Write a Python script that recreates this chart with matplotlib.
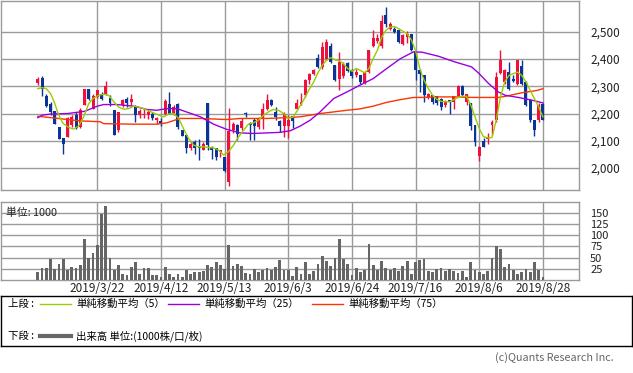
import numpy as np
import matplotlib.pyplot as plt

plt.rcParams['font.family'] = ['Noto Sans CJK JP', 'DejaVu Sans']

# ---- data (2019/3/1 - 2019/8/28, trading days) ----
opens = [2311, 2330, 2263, 2234, 2209, 2150, 2110, 2115, 2157, 2196,
         2151, 2233, 2289, 2218, 2261, 2273, 2270, 2256, 2212, 2139,
         2231, 2255, 2243, 2224, 2194, 2194, 2196, 2197, 2176, 2173,
         2200, 2234, 2200, 2234, 2139, 2121, 2072, 2097, 2078, 2068,
         2237, 2078, 2072, 2060, 2042, 1950, 2141, 2157, 2148, 2203,
         2166, 2175, 2151, 2182, 2218, 2249, 2206, 2173, 2154, 2154,
         2190, 2218, 2234, 2267, 2322, 2346, 2404, 2371, 2401, 2446,
         2377, 2328, 2337, 2386, 2358, 2340, 2340, 2312, 2352, 2446,
         2466, 2446, 2560, 2511, 2511, 2507, 2456, 2480, 2490, 2429,
         2361, 2340, 2259, 2267, 2263, 2255, 2231, 2249, 2243, 2263,
         2300, 2243, 2237, 2157, 2044, 2100, 2107, 2157, 2176, 2349,
         2316, 2352, 2328, 2310, 2373, 2316, 2251, 2176, 2176, 2234]
highs = [2334, 2337, 2270, 2243, 2210, 2152, 2112, 2188, 2194, 2206,
         2221, 2291, 2291, 2270, 2288, 2279, 2320, 2267, 2212, 2206,
         2255, 2261, 2273, 2230, 2218, 2218, 2212, 2206, 2188, 2182,
         2255, 2279, 2230, 2239, 2139, 2121, 2100, 2102, 2108, 2097,
         2239, 2082, 2072, 2068, 2042, 2221, 2170, 2160, 2182, 2206,
         2170, 2182, 2188, 2237, 2273, 2252, 2224, 2176, 2206, 2194,
         2190, 2255, 2276, 2325, 2349, 2365, 2419, 2462, 2474, 2458,
         2377, 2426, 2389, 2389, 2365, 2365, 2340, 2356, 2434, 2507,
         2492, 2560, 2592, 2535, 2517, 2511, 2493, 2502, 2493, 2429,
         2364, 2340, 2275, 2269, 2265, 2258, 2248, 2250, 2263, 2304,
         2304, 2273, 2240, 2158, 2081, 2110, 2127, 2175, 2352, 2432,
         2362, 2389, 2340, 2398, 2395, 2318, 2253, 2178, 2237, 2237]
lows = [2304, 2263, 2225, 2194, 2161, 2105, 2051, 2113, 2150, 2145,
        2148, 2230, 2249, 2216, 2258, 2249, 2267, 2227, 2121, 2133,
        2224, 2224, 2230, 2170, 2182, 2185, 2179, 2176, 2163, 2154,
        2194, 2200, 2194, 2145, 2118, 2054, 2066, 2051, 2029, 2066,
        2065, 2035, 2029, 2042, 1987, 1935, 2130, 2103, 2140, 2188,
        2103, 2103, 2145, 2145, 2212, 2227, 2176, 2133, 2115, 2112,
        2148, 2215, 2230, 2261, 2310, 2340, 2368, 2365, 2398, 2386,
        2318, 2285, 2330, 2352, 2332, 2335, 2310, 2308, 2350, 2443,
        2460, 2440, 2517, 2505, 2495, 2458, 2452, 2458, 2430, 2322,
        2279, 2243, 2255, 2236, 2230, 2212, 2225, 2198, 2218, 2260,
        2263, 2230, 2139, 2081, 2027, 2076, 2088, 2121, 2170, 2345,
        2310, 2285, 2316, 2305, 2305, 2229, 2170, 2117, 2170, 2176]
closes = [2325, 2290, 2227, 2206, 2163, 2107, 2088, 2182, 2188, 2148,
          2212, 2289, 2252, 2265, 2285, 2252, 2300, 2237, 2121, 2204,
          2249, 2240, 2255, 2194, 2209, 2200, 2206, 2185, 2182, 2166,
          2245, 2200, 2224, 2149, 2118, 2075, 2087, 2072, 2072, 2088,
          2085, 2066, 2039, 2066, 1990, 2137, 2161, 2125, 2173, 2197,
          2157, 2154, 2182, 2218, 2249, 2230, 2188, 2154, 2200, 2175,
          2173, 2239, 2242, 2322, 2344, 2361, 2371, 2444, 2462, 2389,
          2322, 2389, 2383, 2356, 2337, 2352, 2316, 2352, 2432, 2478,
          2478, 2541, 2527, 2527, 2499, 2462, 2489, 2490, 2432, 2358,
          2344, 2267, 2271, 2243, 2239, 2224, 2243, 2243, 2263, 2300,
          2267, 2271, 2154, 2097, 2078, 2076, 2114, 2170, 2334, 2398,
          2358, 2291, 2320, 2395, 2310, 2231, 2178, 2139, 2231, 2178]
volume = [18.5, 27, 27, 47, 24.5, 36, 47, 23, 30, 27,
          34, 92, 50, 59, 79, 146, 164, 50, 21.5, 34,
          14, 12, 30, 41, 14, 27, 27, 12, 12, 7,
          30, 14, 7, 14, 7, 23, 14, 18.5, 18.5, 21,
          34, 30, 39, 34, 24.5, 79, 32, 36, 32, 16,
          14, 25, 18.5, 23, 27, 21.5, 30, 45, 23, 22,
          9.6, 30, 14, 41, 14, 21, 36, 54, 43, 32,
          50, 92, 47, 36, 12, 27, 18.5, 23, 81, 34,
          23, 43, 27, 23, 27, 21, 32, 43, 14, 41,
          45, 47, 21, 18.5, 25, 27, 21, 25, 21, 16,
          21, 7, 39, 23, 18.5, 14, 21, 50, 76, 70,
          30, 36, 23, 14, 18.5, 25, 18.5, 39, 23, 7]

# moving averages (day index, price)
ma5_x = [0, 1, 2, 3, 4, 4.5, 5.3, 6, 7.3, 8.4, 9.6, 10.8, 12, 13, 14.3, 15.5, 16.7,
         17.9, 19, 20.2, 21.4, 22.6, 23.7, 24.9, 26.1, 27.3, 28.5, 29.6, 30.8, 32,
         33.2, 34.3, 35.5, 36.7, 37.9, 39, 40.2, 41.4, 42.6, 43.8, 44.9, 46.1, 47.3,
         48.5, 49.6, 50.8, 52, 53.2, 54.3, 55.5, 56.7, 57.9, 59.1, 60.2, 61.4, 62.6,
         63.8, 65, 66, 67, 68, 69, 70, 71, 72, 73, 74, 75, 76, 77, 78, 79, 80, 81,
         82, 83, 84, 85, 86, 87, 88, 89, 90, 91, 92, 93, 94, 95, 96, 97, 98, 99,
         100, 101, 102, 103, 104, 105, 106, 107, 108, 109, 110, 111, 112, 113, 114,
         115, 116, 117, 118, 119]
ma5_y = [2291, 2295, 2291, 2273, 2237, 2212, 2182, 2163, 2149, 2143, 2154, 2188,
         2237, 2255, 2267, 2271, 2267, 2243, 2224, 2216, 2218, 2227, 2224, 2218,
         2210, 2202, 2194, 2188, 2198, 2200, 2182, 2145, 2109, 2084, 2078, 2078,
         2076, 2074, 2066, 2048, 2060, 2084, 2115, 2139, 2161, 2166, 2176, 2194,
         2206, 2215, 2212, 2200, 2182, 2188, 2218, 2249, 2285, 2316, 2350, 2377,
         2395, 2405, 2397, 2393, 2383, 2365, 2355, 2365, 2358, 2349, 2365, 2401,
         2432, 2480, 2505, 2517, 2519, 2511, 2502, 2493, 2470, 2430, 2365, 2322,
         2292, 2267, 2252, 2245, 2243, 2243, 2251, 2259, 2263, 2263, 2231, 2188,
         2145, 2115, 2111, 2112, 2176, 2261, 2316, 2340, 2346, 2352, 2340, 2316,
         2285, 2255, 2224, 2188]
ma25_x = [0, 1, 3, 7, 11, 14, 15.5, 18.6, 22.6, 25.7, 28, 30.4, 32.8, 35, 38.3,
          41.4, 44.5, 47.7, 50.8, 54, 57, 59.5, 61.8, 64.2, 66.5, 69.7, 72.8,
          75.9, 79, 82.2, 85.4, 88.5, 90.5, 94.4, 98.3, 102.2, 103.8, 106.2,
          108.5, 110.1, 113.2, 116.4, 119]
ma25_y = [2185, 2194, 2198, 2200, 2208, 2227, 2233, 2233, 2227, 2215, 2212, 2218,
          2218, 2206, 2188, 2161, 2142, 2129, 2127, 2129, 2131, 2137, 2154, 2176,
          2206, 2255, 2279, 2304, 2328, 2365, 2401, 2426, 2425, 2410, 2389, 2371,
          2349, 2310, 2279, 2267, 2259, 2249, 2239]
ma75_x = [0, 3, 7, 10, 14.7, 15.5, 22.6, 28, 30.4, 33.5, 38.3, 44.5, 47.7, 54,
          58.7, 61.8, 66.5, 69.7, 72.8, 75.9, 79, 82.2, 85.4, 88.5, 90.5, 94.4,
          98.3, 102.2, 106.2, 108.5, 110.1, 114, 117.7, 119]
ma75_y = [2190, 2185, 2178, 2173, 2170, 2163, 2161, 2161, 2166, 2182, 2182, 2178,
          2182, 2182, 2185, 2188, 2200, 2206, 2212, 2217, 2227, 2241, 2251, 2259,
          2259, 2261, 2261, 2259, 2259, 2259, 2263, 2276, 2285, 2291]

date_pos = [14, 29, 44, 59, 74, 89, 104, 119]
date_labels = ['2019/3/22', '2019/4/12', '2019/5/13', '2019/6/3',
               '2019/6/24', '2019/7/16', '2019/8/6', '2019/8/28']
price_ticks = [2000, 2100, 2200, 2300, 2400, 2500]
vol_ticks = [25, 50, 75, 100, 125, 150]

# ---- figure ----
W, H = 633, 373
fig = plt.figure(figsize=(W / 100, H / 100), dpi=100)

def px_axes(x0, y0, x1, y1):
    return fig.add_axes([x0 / W, 1 - y1 / H, (x1 - x0) / W, (y1 - y0) / H])

grid_c = '#9a9a9a'
up_c = '#f0103c'
dn_c = '#0a3597'

ax = px_axes(0.5, 0.5, 579, 190)
axv = px_axes(0.5, 202, 579, 280)

x = np.arange(len(closes))
o = np.array(opens); c = np.array(closes)
col = [up_c if cc >= oo else dn_c for oo, cc in zip(o, c)]
ax.vlines(x, lows, highs, colors=col, linewidth=1, zorder=3)
body_h = np.maximum(np.abs(c - o), 3)
ax.bar(x, body_h, bottom=np.minimum(o, c), width=0.7, color=col, linewidth=0, zorder=3)

ax.plot(ma75_x, ma75_y, color='#ff3300', linewidth=1, zorder=4)
ax.plot(ma25_x, ma25_y, color='#9900dd', linewidth=1, zorder=4)
ax.plot(ma5_x, ma5_y, color='#99cc00', linewidth=1, zorder=4)

axv.bar(x, volume, width=0.66, color='#666666', linewidth=0, zorder=3)

xlim = (-8.8, 127.5)
for a in (ax, axv):
    a.set_xlim(*xlim)
    a.set_xticks(date_pos)
    a.grid(True, color=grid_c, linewidth=1)
    a.set_axisbelow(True)
    a.yaxis.tick_right()
    a.tick_params(length=0, labelsize=8.5, pad=8, colors='#222222')
    for s in a.spines.values():
        s.set_color(grid_c)
        s.set_linewidth(1)

ax.set_ylim(1919.7, 2614.4)
ax.set_yticks(price_ticks)
ax.set_yticklabels([f'{t:,}' for t in price_ticks])
ax.set_xticklabels([])

axv.set_ylim(0, 173.6)
axv.set_yticks(vol_ticks)
axv.set_yticklabels([str(t) for t in vol_ticks], fontsize=8)
axv.set_xticklabels(date_labels, fontsize=8.5)
axv.tick_params(axis='x', pad=1.5)
axv.text(0.01, 0.93, '単位: 1000', transform=axv.transAxes, fontsize=7.8,
         ha='left', va='top', color='#222222', zorder=5)

# ---- legend box ----
leg = px_axes(0.5, 296, 632, 346)
leg.set_xlim(0.5, 632)
leg.set_ylim(346, 296)
leg.set_xticks([]); leg.set_yticks([])
for s in leg.spines.values():
    s.set_color('black'); s.set_linewidth(1)
fs = 7.5
leg.text(8, 303.5, '上段 :', fontsize=fs, va='center', ha='left')
leg.plot([40, 71], [303.5, 303.5], color='#99cc00', linewidth=1)
leg.text(76, 303.5, '単純移動平均（5）', fontsize=fs, va='center', ha='left')
leg.plot([168, 199], [303.5, 303.5], color='#9900dd', linewidth=1)
leg.text(204, 303.5, '単純移動平均（25）', fontsize=fs, va='center', ha='left')
leg.plot([312, 343], [303.5, 303.5], color='#ff3300', linewidth=1)
leg.text(348, 303.5, '単純移動平均（75）', fontsize=fs, va='center', ha='left')
leg.text(8, 336, '下段 :', fontsize=fs, va='center', ha='left')
leg.plot([40, 71], [336, 336], color='#666666', linewidth=3)
leg.text(76, 336, '出来高 単位:(1000株/口/枚)', fontsize=fs, va='center', ha='left')

fig.text(614 / W, 1 - 358 / H, '(c)Quants Research Inc.', fontsize=7.8,
         color='#666666', ha='right', va='center')

fig.savefig('out.png', dpi=100)
